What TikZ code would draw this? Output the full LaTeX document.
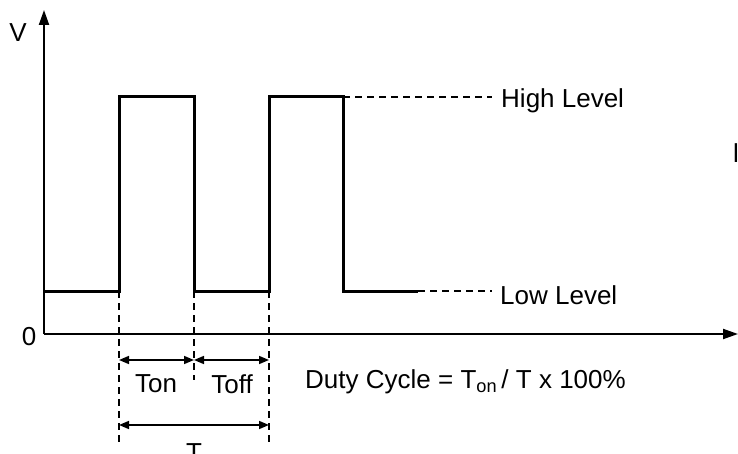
\documentclass[tikz,border=0pt]{standalone}
\usepackage{fontspec}
\setmainfont{Liberation Sans}
\usetikzlibrary{arrows.meta}
\begin{document}
\begin{tikzpicture}[x=1pt,y=-1pt,
  lbl/.style={font=\fontsize{26}{30}\selectfont, inner sep=0pt},
  wave/.style={line width=3pt},
  axis/.style={line width=2pt, -{Triangle[length=15pt,width=10pt]}},
  guide/.style={line width=1.5pt, dash pattern=on 7pt off 5pt},
  dim/.style={line width=1.5pt, {Triangle[length=10pt,width=8pt]}-{Triangle[length=10pt,width=8pt]}}]
\useasboundingbox (0,0) rectangle (738,454);
% axes
\coordinate (O) at (44,334);
\coordinate (Ytop) at (44,10);
\coordinate (Xend) at (738,334);
\draw[axis] (O) -- (Ytop);
\draw[axis] (O) -- (Xend);
\node[lbl] (V) at (18,33) {V};
\node[lbl] (zero) at (29,337) {0};
% waveform corners
\coordinate (w0) at (44,291);
\coordinate (r1b) at (119,291);
\coordinate (r1t) at (119,97);
\coordinate (f1t) at (194,97);
\coordinate (f1b) at (194,291);
\coordinate (r2b) at (269,291);
\coordinate (r2t) at (269,97);
\coordinate (f2t) at (343,97);
\coordinate (f2b) at (343,291);
\coordinate (wend) at (418,291);
\draw[wave, line join=miter] (w0) -- (r1b) -- (r1t) -- (f1t) -- (f1b) -- (r2b) -- (r2t) -- (f2t) -- (f2b) -- (wend);
% level labels
\node[lbl, anchor=west] (high) at (501,101) {High Level};
\node[lbl, anchor=west] (low) at (500,295) {Low Level};
\coordinate (hd) at (492,97);
\coordinate (ld) at (492,291);
\draw[guide] (f2t) -- (hd);
\draw[guide] (wend) -- (ld);
% vertical guides
\coordinate (g1) at (119,443);
\coordinate (g2) at (194,380);
\coordinate (g3) at (269,443);
\draw[guide] (r1b) -- (g1);
\draw[guide] (f1b) -- (g2);
\draw[guide] (r2b) -- (g3);
% dimension arrows
\coordinate (a1) at (119,360);
\coordinate (a2) at (194,360);
\coordinate (a3) at (269,360);
\coordinate (b1) at (119,425);
\coordinate (b3) at (269,425);
\draw[dim] (a1) -- (a2);
\draw[dim] (a2) -- (a3);
\draw[dim] (b1) -- (b3);
\node[lbl] (ton) at (156,384) {Ton};
\node[lbl] (toff) at (232,384) {Toff};
\node[lbl, anchor=north] (T) at (194,443) {T};
\node[lbl, anchor=west] (duty) at (305,382) {Duty Cycle = T\textsubscript{on}\,/ T x 100\%};
\node[lbl, anchor=west] (cut) at (733,153) {l};
\end{tikzpicture}
\end{document}
